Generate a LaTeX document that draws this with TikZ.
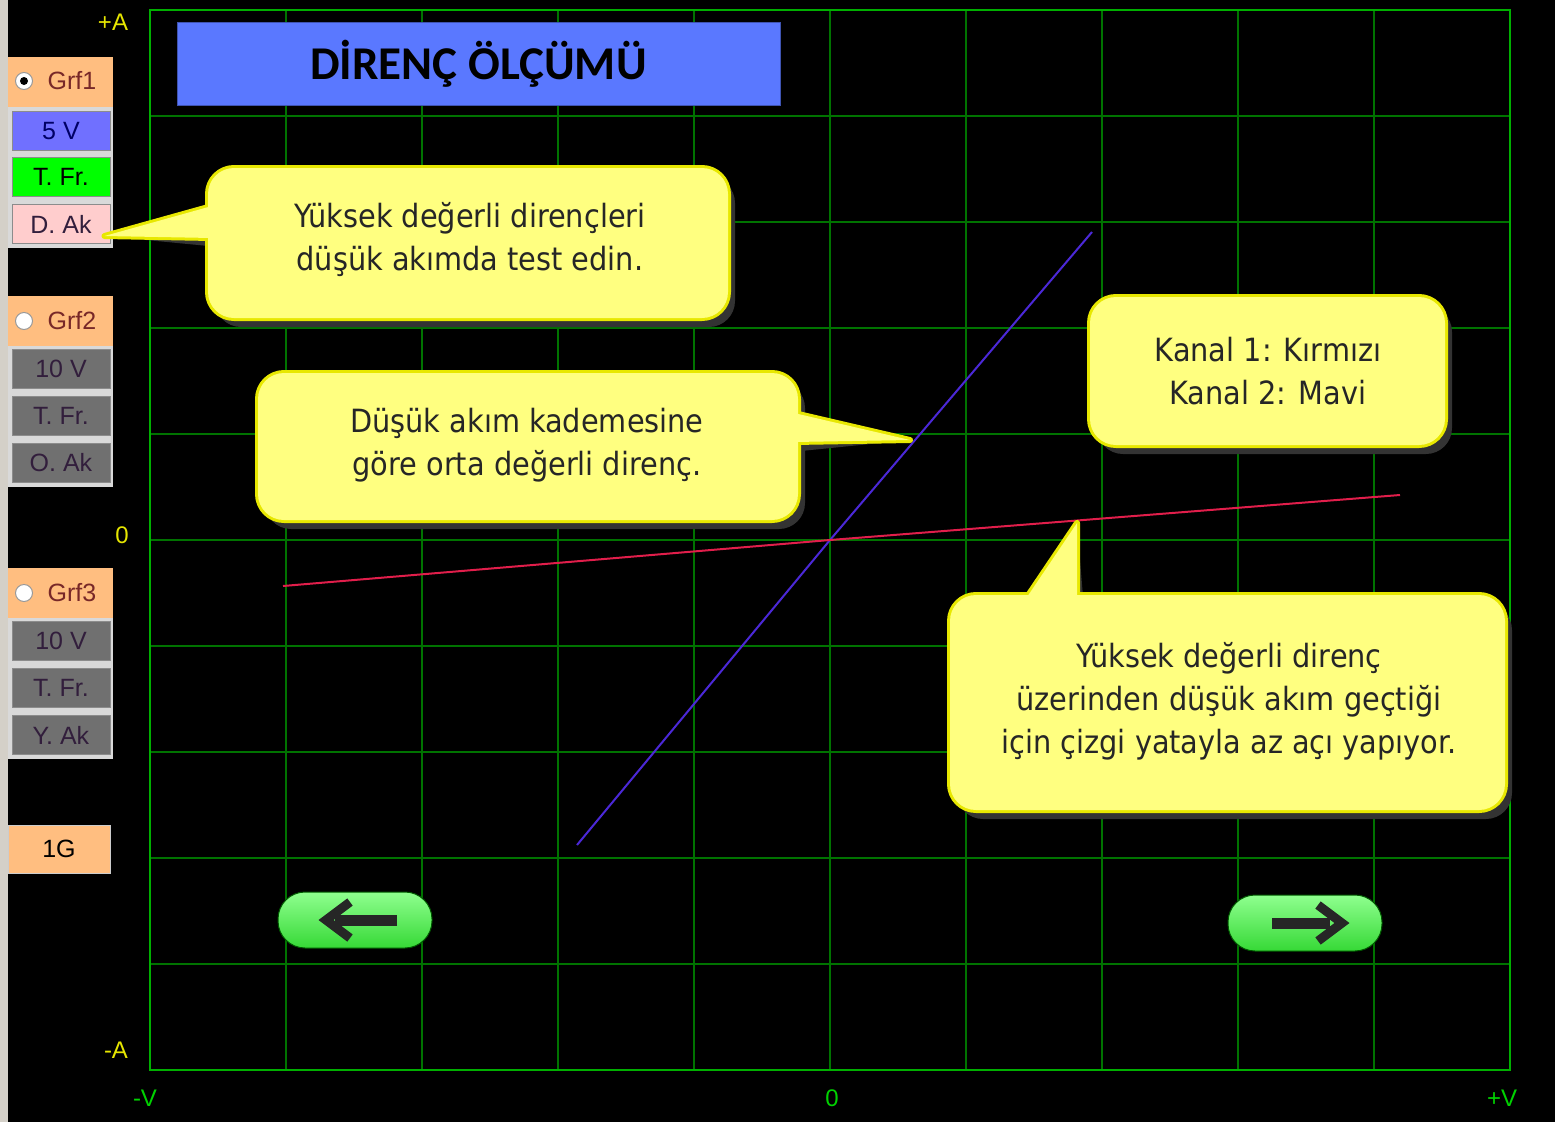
\documentclass[tikz,border=0pt]{standalone}
\usepackage{fontspec}
\setmainfont{Liberation Sans}
\newfontfamily\callfont{DejaVu Sans Condensed}
\newfontfamily\titlefont{Carlito}
\usetikzlibrary{positioning}

\definecolor{gridgreen}{RGB}{0,115,0}
\definecolor{framegreen}{RGB}{0,175,0}
\definecolor{panelgray}{RGB}{212,208,200}
\definecolor{peach}{RGB}{255,190,128}
\definecolor{voltblue}{RGB}{112,112,255}
\definecolor{freqgreen}{RGB}{0,255,0}
\definecolor{amppink}{RGB}{255,205,205}
\definecolor{btngray}{RGB}{112,112,112}
\definecolor{grftext}{RGB}{120,40,40}
\definecolor{btntext}{RGB}{50,30,60}
\definecolor{titleblue}{RGB}{90,120,255}
\definecolor{notefill}{RGB}{255,255,128}
\definecolor{noteedge}{RGB}{232,232,0}
\definecolor{chred}{RGB}{225,30,75}
\definecolor{chblue}{RGB}{75,40,215}
\definecolor{axisyellow}{RGB}{230,230,0}
\definecolor{axisgreen}{RGB}{0,210,0}

\tikzset{
  btn/.style={draw=black!45, line width=1pt, minimum width=98pt, minimum height=39pt,
    inner sep=0pt, font=\fontsize{25}{30}\selectfont, text=btntext},
  grfbtn/.style={fill=peach, minimum width=105pt, minimum height=50pt, inner sep=0pt,
    font=\fontsize{25}{30}\selectfont},
  radio/.style={circle, fill=white, draw=black!40, line width=1pt, minimum size=17pt, inner sep=0pt},
  axislbl/.style={font=\fontsize{24}{28}\selectfont, inner sep=0pt},
  gridline/.style={draw=gridgreen, line width=1.5pt},
  notebody/.style={rounded corners=26pt},
  noteshadow/.style={fill=black!60!gray, shift={(7,9)}},
  noteline/.style={draw=noteedge, line width=6pt, line join=round},
  notetext/.style={align=center, text=black!85, inner sep=0pt,
    font=\callfont\fontsize{32}{43}\selectfont},
  pill/.style={rounded corners=27pt, minimum width=154pt, minimum height=56pt,
    top color=green!20!white!70!green, bottom color=green!75!white!85!black,
    draw=green!35!black, line width=1pt},
  arrowbar/.style={line width=11pt, draw=black!85},
  arrowhead/.style={line width=9pt, draw=black!85, line join=miter}
}

% one yellow note: body corners, pointer triangle
\newcommand{\notebox}[3]{%
  \fill[noteshadow,notebody] #1 rectangle #2;
  \fill[noteshadow] #3;
  \draw[noteline,notebody] #1 rectangle #2;
  \draw[noteline] #3;
  \fill[notefill,notebody] #1 rectangle #2;
  \fill[notefill] #3;}

\begin{document}
\begin{tikzpicture}[x=1pt,y=-1pt]
\useasboundingbox (0,0) rectangle (1555,1122);
\fill[black] (0,0) rectangle (1555,1122);
\fill[panelgray] (0,0) rectangle (8,1122);

% grid
\foreach \gx in {286,422,...,1374}
  \draw[gridline] (\gx,10) -- (\gx,1070);
\foreach \gy in {116,222,...,964}
  \draw[gridline] (150,\gy) -- (1510,\gy);
\draw[draw=framegreen, line width=2.5pt] (150,10) rectangle (1510,1070);

% axis labels
\node[axislbl, text=axisyellow] (amax) at (113,22) {+A};
\node[axislbl, text=axisyellow] (azero) at (122,535) {0};
\node[axislbl, text=axisyellow] (amin) at (116,1050) {-A};
\node[axislbl, text=axisgreen] (vmin) at (145,1098) {-V};
\node[axislbl, text=axisgreen] (vzero) at (832,1098) {0};
\node[axislbl, text=axisgreen] (vmax) at (1502,1098) {+V};

% measured lines
\coordinate (origin) at (830,540);
\draw[chblue, line width=2pt] (577,845) -- (origin) -- (1092,232);
\draw[chred, line width=2pt] (283,586) -- (origin) -- (1400,495);

% title
\node[fill=titleblue, draw=titleblue!70!black, minimum width=603pt, minimum height=83pt,
  font=\titlefont\bfseries\fontsize{47}{50}\selectfont] (title) at (478.5,63.5) {DİRENÇ ÖLÇÜMÜ};

% channel 1 buttons
\fill[black!15] (8,107) rectangle (113,248);
\node[grfbtn] (grf1) at (60.5,82) {};
\node[text=grftext, font=\fontsize{25}{30}\selectfont] at (72,81) {Grf1};
\node[radio] (radio1) at (24,81) {};
\fill[black] (radio1) circle (4);
\node[btn, fill=voltblue, text=blue!40!black] (volt1) at (61,131) {5 V};
\node[btn, fill=freqgreen, text=black] (freq1) at (61,177) {T. Fr.};
\node[btn, fill=amppink] (amp1) at (61,224) {D. Ak};

% channel 2 and 3 buttons
\foreach \gy/\gn/\gv/\ga in {321/2/10 V/O. Ak, 593/3/10 V/Y. Ak}{
  \fill[black!15] (8,\gy+24) rectangle (113,\gy+166);
  \node[grfbtn] (grf\gn) at (60.5,\gy) {};
  \node[text=grftext, font=\fontsize{25}{30}\selectfont] at (72,\gy) {Grf\gn};
  \node[radio] (radio\gn) at (24,\gy) {};
  \node[btn, fill=btngray] (volt\gn) at (61,\gy+48) {\gv};
  \node[btn, fill=btngray] (freq\gn) at (61,\gy+95) {T. Fr.};
  \node[btn, fill=btngray] (amp\gn) at (61,\gy+142) {\ga};
}
\node[btn, fill=peach, draw=black!20, minimum width=102pt, minimum height=48pt, text=black] (range) at (59,849) {1G};

% notes
\coordinate (tip1) at ([xshift=-6pt,yshift=-12pt]amp1.east);
\notebox{(208,168)}{(728,318)}{(212,206) -- (tip1) -- (212,238) -- cycle}
\node[notetext] (note1) at (470,239.5) {Yüksek değerli dirençleri\\düşük akımda test edin.};

\coordinate (tip2) at (910,440);
\notebox{(258,373)}{(798,520)}{(794,413) -- (tip2) -- (794,442) -- cycle}
\node[notetext] (note2) at (527,445) {Düşük akım kademesine\\göre orta değerli direnç.};

\notebox{(1090,297)}{(1445,445)}{(1260,370) -- (1270,370) -- (1265,375) -- cycle}
\node[notetext] (note3) at (1268,371) {Kanal 1: Kırmızı\\Kanal 2: Mavi};

\coordinate (tip4) at (1077,523);
\notebox{(950,595)}{(1505,810)}{(1025,600) -- (tip4) -- (1077,600) -- cycle}
\node[notetext] (note4) at (1229,701) {Yüksek değerli direnç\\üzerinden düşük akım geçtiği\\için çizgi yatayla az açı yapıyor.};

% page buttons
\node[pill] (back) at (355,920) {};
\draw[arrowbar] ([xshift=42pt]back.center) -- ([xshift=-20pt]back.center);
\draw[arrowhead] ([xshift=-5pt,yshift=18pt]back.center) -- ([xshift=-29pt]back.center)
  -- ([xshift=-5pt,yshift=-18pt]back.center);
\node[pill] (next) at (1305,923) {};
\draw[arrowbar] ([xshift=-33pt]next.center) -- ([xshift=25pt]next.center);
\draw[arrowhead] ([xshift=13pt,yshift=18pt]next.center) -- ([xshift=37pt]next.center)
  -- ([xshift=13pt,yshift=-18pt]next.center);
\end{tikzpicture}
\end{document}
